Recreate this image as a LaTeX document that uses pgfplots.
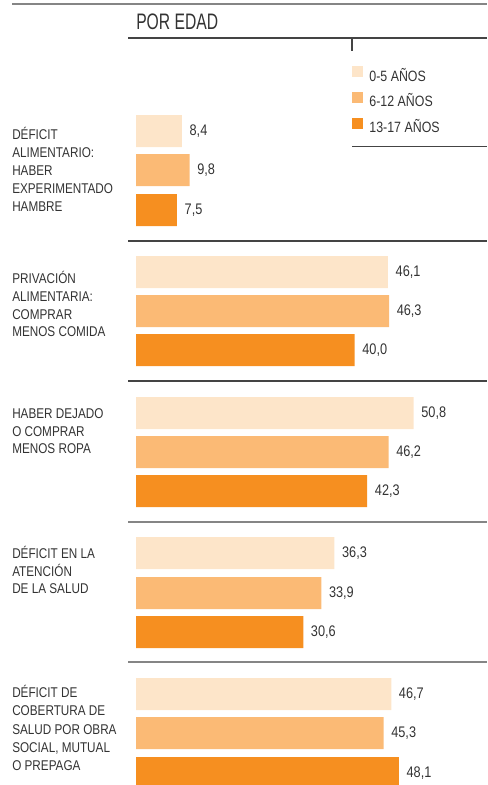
\documentclass[border=0pt]{standalone}
\usepackage{pgfplots}
\pgfplotsset{compat=1.18}
\usepackage{fontspec}
\setmainfont{Liberation Sans}[FakeStretch=0.83]
\newfontfamily\titlefont{Liberation Sans}[FakeStretch=0.70]
\definecolor{cA}{HTML}{FDE5C9}
\definecolor{cB}{HTML}{FBBA75}
\definecolor{cC}{HTML}{F68F20}
\definecolor{txt}{HTML}{333333}
\definecolor{lnD}{HTML}{444444}
\definecolor{lnL}{HTML}{858585}
\newcommand{\lbl}[2]{\node[anchor=base west,inner sep=0pt,text=txt,font=\fontsize{10.6pt}{12pt}\selectfont] at (12,#1) {#2};}
\begin{document}
\begin{tikzpicture}
\useasboundingbox (0,0) rectangle (365.25pt,588.75pt);
\begin{axis}[
  at={(0,0)}, anchor=south west, scale only axis,
  width=365.25pt, height=588.75pt,
  xmin=-24.881, xmax=64.215, ymin=0, ymax=785, y dir=reverse,
  hide axis, clip=false,
  xbar, bar width=32,
  point meta=x,
  nodes near coords={\pgfmathprintnumber[fixed,fixed zerofill,precision=1,use comma,assume math mode=true]{\pgfplotspointmeta}},
  nodes near coords style={anchor=west, inner sep=0pt, xshift=5.6pt, text=txt, font=\fontsize{11.5pt}{13pt}\selectfont},
  legend image code/.code={\fill[#1] (0pt,-1pt) rectangle (8.25pt,7.25pt);},
  legend cell align=left,
  legend style={at={(axis cs:39.52,66)}, anchor=north west, draw=none, fill=none, inner sep=0pt,
    row sep=8.2pt, font=\fontsize{11.2pt}{12pt}\selectfont, text=txt,
    nodes={inner sep=0pt, text height=7.6pt, text depth=0pt},
    /tikz/every odd column/.append style={column sep=4.6pt}},
]
\addplot[fill=cA, draw=none, bar shift=0pt] coordinates {(8.4,131) (46.1,272) (50.8,413) (36.3,553) (46.7,694)};
\addlegendentry{0-5 AÑOS}
\addplot[fill=cB, draw=none, bar shift=0pt] coordinates {(9.8,170) (46.3,311) (46.2,452) (33.9,593) (45.3,733)};
\addlegendentry{6-12 AÑOS}
\addplot[fill=cC, draw=none, bar shift=0pt] coordinates {(7.5,210) (40.0,350) (42.3,491) (30.6,632) (48.1,773)};
\addlegendentry{13-17 AÑOS}
\end{axis}
\begin{scope}[x=0.75pt,y=-0.75pt,shift={(0pt,588.75pt)}]
\draw[lnL, line width=1pt] (12,4) -- (487,4);
\draw[lnD, line width=0.9pt] (128,38) -- (487,38);
\draw[lnD, line width=0.9pt] (352,38) -- (352,51);
\draw[lnD, line width=0.9pt] (352,146.5) -- (487,146.5);
\draw[lnD, line width=0.9pt] (128,241) -- (487,241);
\draw[lnD, line width=0.9pt] (128,381) -- (487,381);
\draw[lnL, line width=0.9pt] (128,522) -- (487,522);
\draw[lnL, line width=0.9pt] (128,662) -- (487,662);
\node[anchor=base west,inner sep=0pt,text=txt,font=\titlefont\fontsize{16.8pt}{18pt}\selectfont] at (136,30) {POR EDAD};
\lbl{139.3}{DÉFICIT}
\lbl{157.5}{ALIMENTARIO:}
\lbl{175.7}{HABER}
\lbl{193.9}{EXPERIMENTADO}
\lbl{212}{HAMBRE}
\lbl{283.3}{PRIVACIÓN}
\lbl{301.2}{ALIMENTARIA:}
\lbl{319.1}{COMPRAR}
\lbl{337}{MENOS COMIDA}
\lbl{418.3}{HABER DEJADO}
\lbl{436.2}{O COMPRAR}
\lbl{454}{MENOS ROPA}
\lbl{558.3}{DÉFICIT EN LA}
\lbl{576.2}{ATENCIÓN}
\lbl{594}{DE LA SALUD}
\lbl{697.7}{DÉFICIT DE}
\lbl{715.9}{COBERTURA DE}
\lbl{734.1}{SALUD POR OBRA}
\lbl{752.3}{SOCIAL, MUTUAL}
\lbl{770.5}{O PREPAGA}
\end{scope}
\end{tikzpicture}
\end{document}
